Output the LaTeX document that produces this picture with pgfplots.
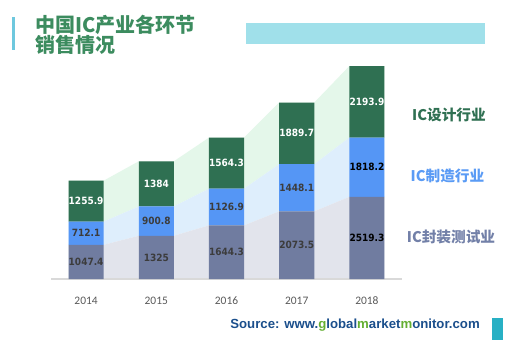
\documentclass[border=0pt]{standalone}
\usepackage{fontspec}
\usepackage{pgfplots}
\pgfplotsset{compat=1.18}
\newfontfamily\cjk{Noto Sans CJK SC}
\newfontfamily\dvs{DejaVu Sans}[FakeStretch=0.9]
\newfontfamily\carl{Carlito}
\newfontfamily\lib{Liberation Sans}
\definecolor{cgreen}{RGB}{47,112,82}
\definecolor{cblue}{RGB}{85,150,245}
\definecolor{cgray}{RGB}{112,124,160}
\definecolor{agreen}{RGB}{228,247,234}
\definecolor{ablue}{RGB}{222,238,252}
\definecolor{agray}{RGB}{226,228,236}
\definecolor{titlegreen}{RGB}{60,140,95}
\definecolor{lblue}{RGB}{90,155,245}
\definecolor{lgray}{RGB}{114,128,168}
\definecolor{axgray}{RGB}{217,217,217}
\definecolor{tickgray}{RGB}{89,89,89}
\definecolor{labgray}{RGB}{60,60,60}
\definecolor{srcblue}{RGB}{27,79,140}
\definecolor{srcgreen}{RGB}{100,175,50}
\definecolor{cyanbar}{RGB}{110,200,222}
\definecolor{cyanrect}{RGB}{160,224,234}
\definecolor{tealrect}{RGB}{40,176,196}
\begin{document}
\begin{tikzpicture}[x=1pt,y=1pt]
\path[use as bounding box] (0,0) rectangle (382.5,255);
\fill[white] (0,0) rectangle (382.5,255);
\fill[cyanbar] (9,217.5) rectangle (11.25,242.25);
\fill[cyanrect] (184.5,222) rectangle (363.75,237.75);
\fill[tealrect] (369,0) rectangle (377.25,16.5);
\node[anchor=west, inner sep=0pt, text=titlegreen, font=\cjk\bfseries\fontsize{15}{16}\selectfont] at (26.25,236.25) {中国IC产业各环节};
\node[anchor=west, inner sep=0pt, text=titlegreen, font=\cjk\bfseries\fontsize{15}{16}\selectfont] at (26.25,221.6) {销售情况};
\pgfplotsset{myax/.style={scale only axis, width=263.25pt, height=164.25pt,
  xmin=-0.5, xmax=4.5, ymin=0, ymax=6716, at={(38.25pt,45.75pt)}, anchor=south west}}
\begin{axis}[myax, axis lines=none, stack plots=y, area style]
\addplot[fill=agray, draw=none] coordinates {(-0.25,1047.4)(0.25,1047.4)(0.75,1325)(1.25,1325)(1.75,1644.3)(2.25,1644.3)(2.75,2073.5)(3.25,2073.5)(3.75,2519.3)(4.25,2519.3)} \closedcycle;
\addplot[fill=ablue, draw=none] coordinates {(-0.25,712.1)(0.25,712.1)(0.75,900.8)(1.25,900.8)(1.75,1126.9)(2.25,1126.9)(2.75,1448.1)(3.25,1448.1)(3.75,1818.2)(4.25,1818.2)} \closedcycle;
\addplot[fill=agreen, draw=none] coordinates {(-0.25,1255.9)(0.25,1255.9)(0.75,1384)(1.25,1384)(1.75,1564.3)(2.25,1564.3)(2.75,1889.7)(3.25,1889.7)(3.75,2193.9)(4.25,2193.9)} \closedcycle;
\end{axis}
\begin{axis}[myax, ybar stacked, bar width=0.5,
  axis x line=bottom, axis y line=none,
  x axis line style={-, draw=axgray, line width=1.1pt},
  xtick={0,1,2,3,4}, xticklabels={2014,2015,2016,2017,2018},
  major tick length=0pt,
  xticklabel style={font=\carl\fontsize{8.6}{10}\selectfont, text=tickgray, anchor=center, yshift=-16pt}]
\addplot[fill=cgray, draw=none] coordinates {(0,1047.4)(1,1325)(2,1644.3)(3,2073.5)(4,2519.3)};
\addplot[fill=cblue, draw=none] coordinates {(0,712.1)(1,900.8)(2,1126.9)(3,1448.1)(4,1818.2)};
\addplot[fill=cgreen, draw=none] coordinates {(0,1255.9)(1,1384)(2,1564.3)(3,1889.7)(4,2193.9)};
\end{axis}
\begin{axis}[myax, axis lines=none, nodes near coords, point meta=explicit symbolic,
  every node near coord/.append style={anchor=center, inner sep=0pt, font=\dvs\bfseries\fontsize{7.5}{8}\selectfont}]
\addplot[draw=none, nodes near coords style={text=labgray}] coordinates {(0,523.7)[1047.4] (1,662.5)[1325] (2,822.15)[1644.3] (3,1036.75)[2073.5]};
\addplot[draw=none, nodes near coords style={text=black}] coordinates {(4,1259.65)[2519.3]};
\addplot[draw=none, nodes near coords style={text=labgray}] coordinates {(0,1403.45)[712.1] (1,1775.4)[900.8] (2,2207.75)[1126.9] (3,2797.55)[1448.1]};
\addplot[draw=none, nodes near coords style={text=black}] coordinates {(4,3428.4)[1818.2]};
\addplot[draw=none, nodes near coords style={text=white}] coordinates {(0,2387.45)[1255.9] (1,2917.8)[1384] (2,3553.35)[1564.3] (3,4466.45)[1889.7] (4,5434.45)[2193.9]};
\end{axis}
\node[text=cgreen, font=\cjk\bfseries\fontsize{11}{12}\selectfont] at (336.75,168.75) {IC设计行业};
\node[text=lblue, font=\cjk\bfseries\fontsize{11}{12}\selectfont] at (335.6,123) {IC制造行业};
\node[text=lgray, font=\cjk\bfseries\fontsize{11}{12}\selectfont] at (338.25,77.25) {IC封装测试业};
\node[anchor=east, inner sep=0pt, text=srcblue, font=\lib\bfseries\fontsize{9.9}{11}\selectfont] at (360,11.25) {Source: www.\textcolor{srcgreen}{g}lobal\textcolor{srcgreen}{m}arket\textcolor{srcgreen}{m}onitor.com};
\end{tikzpicture}
\end{document}
